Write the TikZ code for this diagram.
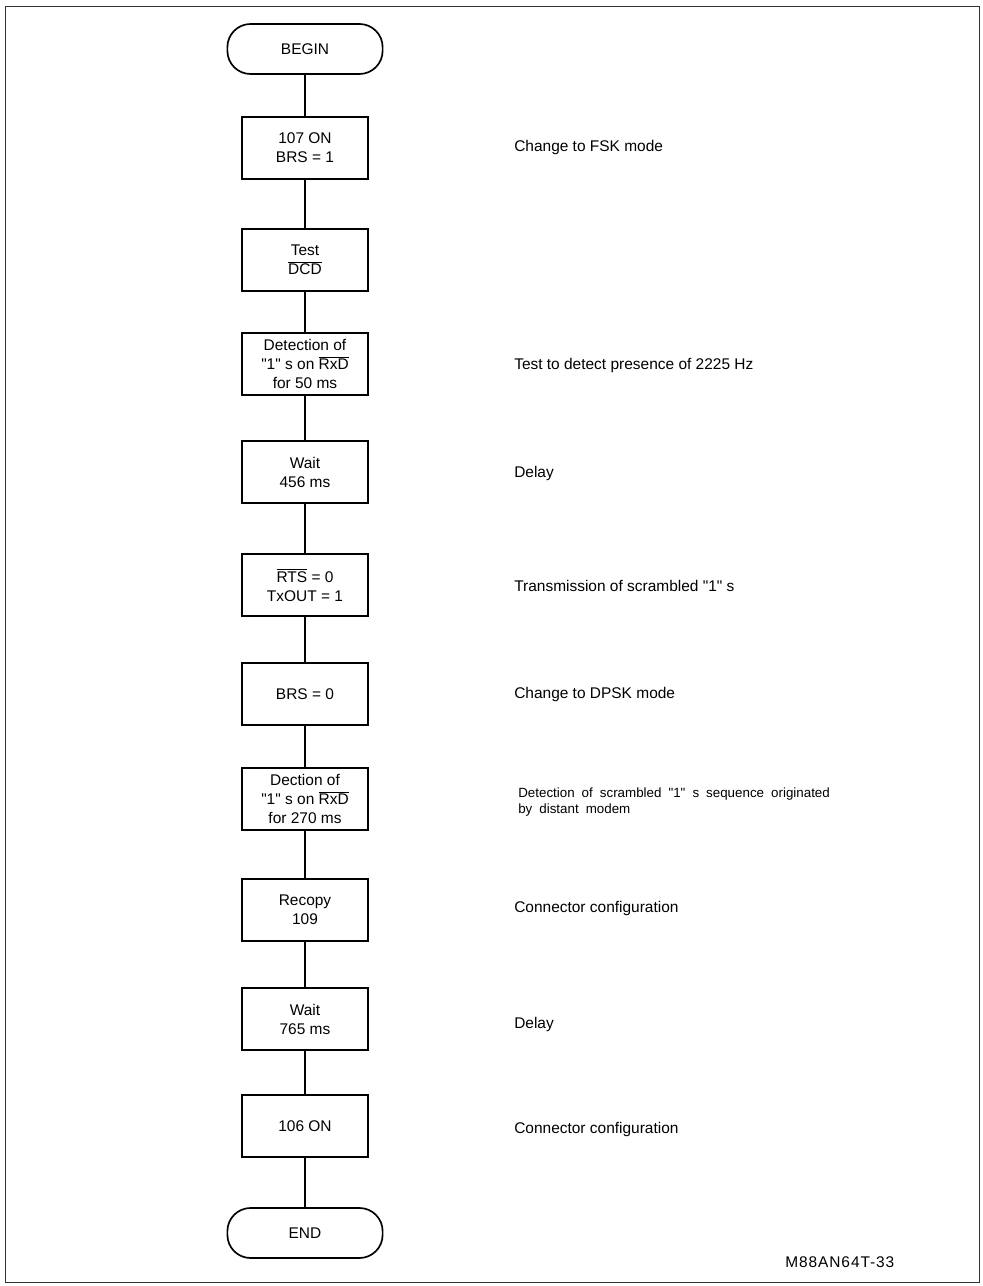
\documentclass[tikz,border=0pt]{standalone}
\usepackage{fontspec}
\setmainfont{Liberation Sans}[Ligatures=TeXOff]
\usepackage{tikz}

% overlined signal names
\newcommand{\sig}[1]{$\overline{\mbox{#1}}$}
% loose word spacing for the long remark
\newcommand{\loosewords}{\spaceskip=5pt plus 1pt\relax}

\tikzset{
  flow/.style={line width=1.2pt},
  stepbox/.style={draw,flow,minimum width=3.15cm,minimum height=1.55cm,align=center,inner sep=1pt},
  termbox/.style={draw,flow,rounded corners=0.58cm,minimum width=3.88cm,minimum height=1.25cm},
  note/.style={anchor=west,align=left,inner sep=0pt}
}

\begin{document}
\begin{tikzpicture}[x=0.025cm,y=-0.025cm,font=\fontsize{11}{13.5}\selectfont]
\useasboundingbox (0,0) rectangle (983,1286);
\draw[line width=0.5pt,black!80] (5,6) rectangle (979,1282);

% main column
\node[termbox] (begin) at (305,49) {BEGIN};
\node[stepbox] (s1) at (305,148) {107 ON\\BRS = 1};
\node[stepbox] (s2) at (305,260) {Test\\\sig{DCD}};
\node[stepbox] (s3) at (305,364) {Detection of\\"1" s on \sig{RxD}\\for 50 ms};
\node[stepbox] (s4) at (305,472) {Wait\\456 ms};
\node[stepbox] (s5) at (305,585) {\sig{RTS} = 0\\TxOUT = 1};
\node[stepbox] (s6) at (305,694) {BRS = 0};
\node[stepbox] (s7) at (305,799) {Dection of\\"1" s on \sig{RxD}\\for 270 ms};
\node[stepbox] (s8) at (305,910) {Recopy\\109};
\node[stepbox] (s9) at (305,1019) {Wait\\765 ms};
\node[stepbox] (s10) at (305,1126) {106 ON};
\node[termbox] (end) at (305,1233) {END};

\draw[flow] (begin) -- (s1);
\draw[flow] (s1) -- (s2);
\draw[flow] (s2) -- (s3);
\draw[flow] (s3) -- (s4);
\draw[flow] (s4) -- (s5);
\draw[flow] (s5) -- (s6);
\draw[flow] (s6) -- (s7);
\draw[flow] (s7) -- (s8);
\draw[flow] (s8) -- (s9);
\draw[flow] (s9) -- (s10);
\draw[flow] (s10) -- (end);

% comments on the right
\node[note] (n1) at (514,148) {Change to FSK mode};
\node[note] (n3) at (514,366) {Test to detect presence of 2225 Hz};
\node[note] (n4) at (514,473) {Delay};
\node[note] (n5) at (514,586) {Transmission of scrambled "1" s};
\node[note] (n6) at (514,694) {Change to DPSK mode};
\node[note,font=\fontsize{9.5}{12}\selectfont\loosewords] (n7) at (518,802)
  {Detection of scrambled "1" s sequence originated\\by distant modem};
\node[note] (n8) at (514,908) {Connector configuration};
\node[note] (n9) at (514,1024) {Delay};
\node[note] (n10) at (514,1129) {Connector configuration};

\node[note] (ref) at (785,1262) {\addfontfeature{LetterSpace=6}M88AN64T-33};
\end{tikzpicture}
\end{document}
